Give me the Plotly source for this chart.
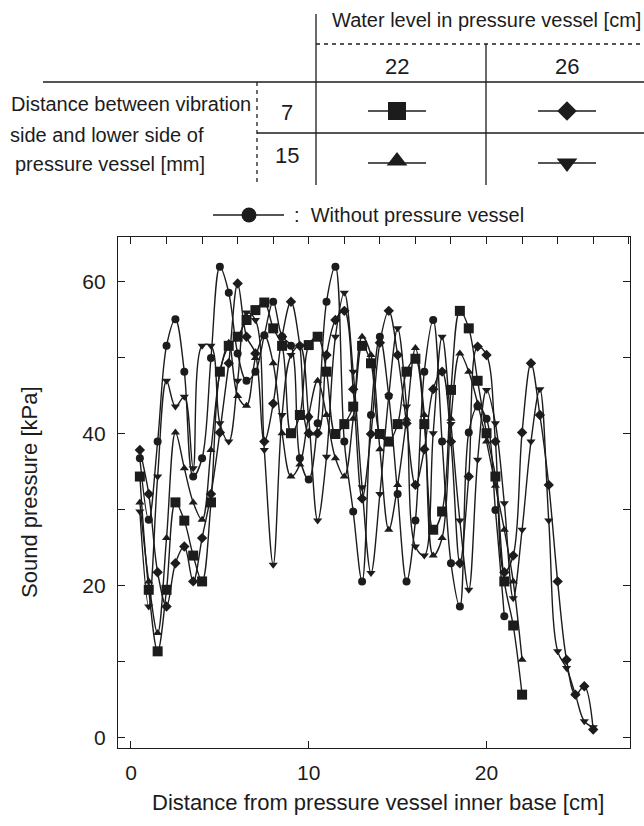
import plotly.graph_objects as go

# Distance from the inner base of the pressure vessel [cm]
positions_cm = [0.5, 1.0, 1.5, 2.0, 2.5, 3.0, 3.5, 4.0, 4.5, 5.0, 5.5, 6.0, 6.5,
                7.0, 7.5, 8.0, 8.5, 9.0, 9.5, 10.0, 10.5, 11.0, 11.5, 12.0, 12.5,
                13.0, 13.5, 14.0, 14.5, 15.0, 15.5, 16.0, 16.5, 17.0, 17.5, 18.0,
                18.5, 19.0, 19.5, 20.0, 20.5, 21.0, 21.5, 22.0, 22.5, 23.0, 23.5,
                24.0, 24.5, 25.0, 25.5, 26.0]

# Sound pressure [kPa]
# water level 22 cm, gap 7 mm (square)
level22_gap7 = [34.4, 19.5, 11.4, 19.5, 31.0, 28.6, 24.0, 20.6, 31.0, 48.2, 51.6,
                52.8, 55.0, 56.3, 57.3, 53.9, 51.6, 40.1, 42.5, 51.7, 52.8, 48.2,
                40.0, 41.3, 43.6, 51.6, 49.3, 40.0, 39.0, 41.3, 48.2, 49.9, 41.3,
                27.4, 29.8, 45.8, 56.2, 53.9, 47.0, 40.1, 34.4, 20.6, 14.8, 5.7]
# water level 26 cm, gap 7 mm (diamond)
level26_gap7 = [37.9, 32.1, 21.8, 17.3, 23.0, 25.2, 20.6, 26.3, 32.1, 40.2, 49.3,
                59.8, 52.8, 50.6, 39.0, 44.0, 52.8, 57.4, 51.6, 40.1, 40.1, 50.4,
                55.0, 56.2, 45.9, 31.5, 40.0, 52.0, 56.2, 50.4, 41.4, 33.3, 38.0,
                45.9, 48.2, 39.0, 23.0, 34.4, 51.5, 50.4, 39.0, 21.8, 24.0, 40.2,
                49.3, 42.5, 33.3, 20.6, 10.3, 5.7, 6.8, 1.1]
# water level 22 cm, gap 15 mm (triangle up)
level22_gap15 = [31.0, 20.6, 13.8, 26.3, 40.2, 35.5, 31.0, 28.7, 37.9, 48.0, 52.0,
                 45.0, 43.7, 50.0, 53.0, 49.3, 40.1, 34.4, 36.0, 42.5, 47.0, 42.5,
                 36.8, 34.4, 42.0, 52.8, 50.4, 38.0, 27.4, 33.3, 42.0, 51.3, 42.5,
                 24.0, 26.3, 42.0, 50.6, 48.2, 44.0, 39.0, 33.2, 27.4, 20.6, 10.3]
# water level 26 cm, gap 15 mm (triangle down)
level26_gap15 = [29.8, 17.3, 34.4, 47.0, 43.6, 44.9, 35.5, 51.6, 51.6, 41.4, 39.0,
                 47.0, 56.0, 55.0, 37.9, 22.8, 42.5, 50.4, 51.6, 42.0, 28.6, 37.0,
                 52.8, 58.6, 48.2, 33.0, 21.7, 32.1, 45.0, 53.9, 43.6, 25.2, 24.0,
                 40.1, 52.8, 41.3, 28.6, 19.5, 36.6, 45.8, 41.4, 30.9, 18.4, 27.4,
                 39.0, 45.9, 28.6, 11.4, 9.2, 5.7, 2.2, 1.4]
# without pressure vessel (circle)
no_vessel = [36.8, 28.7, 39.0, 51.6, 55.1, 48.2, 34.4, 36.8, 50.0, 62.0, 58.6,
             50.6, 47.0, 48.2, 53.0, 57.4, 52.8, 51.6, 36.8, 34.0, 41.4, 57.4,
             62.0, 39.0, 29.8, 20.6, 42.5, 52.8, 45.0, 32.1, 20.6, 28.6, 48.2,
             55.0, 39.0, 23.0, 17.3, 40.2, 43.6, 42.0, 30.0, 16.0]

x_tick_vals = [0, 10, 20]
x_tick_text = ["0", "10", "20"]
top_tick_vals = [0, 2, 4, 6, 8, 10, 12, 14, 16, 18, 20, 22, 24, 26, 28]
y_tick_vals = [0, 10, 20, 30, 40, 50, 60]
y_tick_text = ["0", "", "20", "", "40", "", "60"]

W, H = 644, 826
FONT = "Liberation Sans, Arial, Helvetica, sans-serif"
INK = "#1c1c1c"

fig = go.Figure()

series = [
    (level22_gap7, "square", 10),
    (level26_gap7, "diamond", 8),
    (level22_gap15, "triangle-up", 8),
    (level26_gap15, "triangle-down", 8),
    (no_vessel, "circle", 8),
]
for ys, sym, size in series:
    fig.add_trace(go.Scatter(
        x=positions_cm[:len(ys)], y=ys, mode="lines+markers",
        line=dict(shape="spline", smoothing=1.0, color=INK, width=1.4),
        marker=dict(symbol=sym, size=size, color=INK, line=dict(width=0)),
        showlegend=False, hoverinfo="skip", xaxis="x", yaxis="y"))

# carrier for the top tick marks
fig.add_trace(go.Scatter(x=[None], y=[None], xaxis="x3", yaxis="y",
                         showlegend=False, hoverinfo="skip"))

# ---- key table drawn on a full-page pixel canvas (x2/y2) ----
shapes = []


def seg(x0, y0, x1, y1, dash="solid", width=1.3):
    shapes.append(dict(type="line", xref="x2", yref="y2", x0=x0, y0=y0, x1=x1,
                       y1=y1, line=dict(color=INK, width=width, dash=dash)))


seg(316, 14, 316, 185)             # column divider
seg(316, 44, 644, 44, dash="4px,4px")
seg(486, 44, 486, 185)
seg(43, 82, 644, 82)
seg(257, 82, 257, 185, dash="4px,4px")
seg(257, 133, 644, 133)

key_rows = [
    (397, 111, "square", 18),
    (567, 111, "diamond", 15),
    (397, 161, "triangle-up", 18),
    (567, 163, "triangle-down", 18),
]
for cx, cy, sym, size in key_rows:
    ly = 163 if cy in (161, 163) else cy
    seg(cx - 29, ly, cx + 29, ly)
    fig.add_trace(go.Scatter(x=[cx], y=[cy], mode="markers",
                             marker=dict(symbol=sym, size=size, color=INK),
                             xaxis="x2", yaxis="y2", showlegend=False,
                             hoverinfo="skip"))
seg(213, 215, 284, 215)
fig.add_trace(go.Scatter(x=[249], y=[215], mode="markers",
                         marker=dict(symbol="circle", size=15, color=INK),
                         xaxis="x2", yaxis="y2", showlegend=False,
                         hoverinfo="skip"))

ann = []


def label(x, y, text, size=20, xanchor="center", angle=0):
    ann.append(dict(xref="x2", yref="y2", x=x, y=y, text=text, showarrow=False,
                    xanchor=xanchor, yanchor="middle", textangle=angle,
                    font=dict(family=FONT, size=size, color=INK)))


label(486, 20, "Water level in pressure vessel [cm]")
label(397, 66, "22", size=22)
label(567, 66, "26", size=22)
label(287, 112, "7", size=22)
label(287, 155, "15", size=22)
label(9, 104, "Distance between vibration", xanchor="left")
label(8, 135, "side and lower side of", xanchor="left")
label(13, 164, "pressure vessel [mm]", xanchor="left")
label(292, 215, ":  Without pressure vessel", xanchor="left")
# axis titles
label(378, 802, "Distance from pressure vessel inner base [cm]", size=22)
label(29, 492, "Sound pressure [kPa]", size=22, angle=-90)

px0, px1, py0, py1 = 118, 630, 237, 748
axis_common = dict(showgrid=False, zeroline=False, ticks="inside", ticklen=7,
                   tickwidth=1.2, tickcolor=INK, linecolor=INK, linewidth=1.3,
                   showline=True, tickfont=dict(family=FONT, size=21, color=INK))

fig.update_layout(
    width=W, height=H, margin=dict(l=0, r=0, t=0, b=0),
    paper_bgcolor="white", plot_bgcolor="rgba(0,0,0,0)",
    xaxis=dict(domain=[px0 / W, px1 / W], range=[-0.73, 28.07], anchor="y",
               tickvals=x_tick_vals, ticktext=x_tick_text, mirror=True,
               ticklabelstandoff=6, **axis_common),
    xaxis3=dict(domain=[px0 / W, px1 / W], range=[-0.73, 28.07], anchor="y",
                overlaying="x", side="top", tickvals=top_tick_vals,
                showticklabels=False, showline=False, showgrid=False,
                zeroline=False, ticks="inside", ticklen=7, tickwidth=1.2,
                tickcolor=INK),
    yaxis=dict(domain=[(H - py1) / H, (H - py0) / H], range=[-1.32, 65.92],
               anchor="x", tickvals=y_tick_vals, ticktext=y_tick_text,
               mirror="ticks", ticklabelstandoff=7, **axis_common),
    xaxis2=dict(domain=[0, 1], range=[0, W], anchor="y2", visible=False,
                fixedrange=True),
    yaxis2=dict(domain=[0, 1], range=[H, 0], anchor="x2", visible=False,
                fixedrange=True),
    shapes=shapes, annotations=ann,
)

fig.write_html("out.html")
